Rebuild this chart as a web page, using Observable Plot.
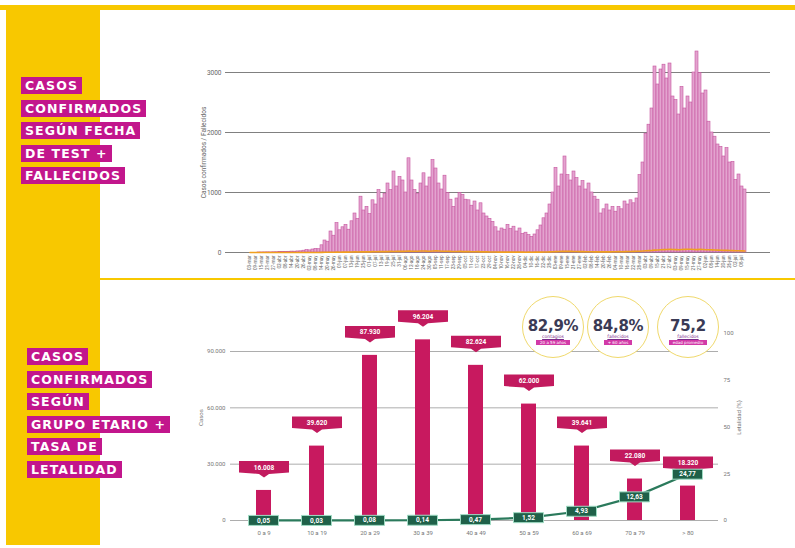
<!DOCTYPE html>
<html><head><meta charset="utf-8">
<script src="https://cdn.jsdelivr.net/npm/d3@7"></script>
<script src="https://cdn.jsdelivr.net/npm/@observablehq/plot@0.6"></script>
<style>
body{margin:0;background:#fff;font-family:"DejaVu Sans",sans-serif}
#wrap{position:relative;width:795px;height:548px;overflow:hidden;background:#fff}
.abs{position:absolute}
.lbl{background:#c2168c;color:#fff;font-weight:bold;font-size:12.5px;letter-spacing:1.1px;line-height:17px;height:17px;padding:0 4px;margin-bottom:5.5px;width:max-content}
.circ{position:absolute;width:60px;height:60px;border:1.8px solid #f0d96c;border-radius:50%;background:#fff;text-align:center;line-height:5px}
.big{font-family:"DejaVu Sans",sans-serif;font-weight:bold;font-size:15px;color:#3a3a55;margin-top:21px;line-height:16px;letter-spacing:-0.3px}
.sub{font-size:4.5px;color:#7a2a8a;line-height:6px;text-decoration:underline}
.minirow{line-height:5px;height:5px}
.mini{display:inline-block;background:#d23aa8;color:#fff;font-size:4px;line-height:5px;padding:0 4px;vertical-align:top}
</style></head>
<body><div id="wrap">
<div class="abs" style="left:0;top:5px;width:795px;height:5px;background:#f8c800"></div>
<div class="abs" style="left:6px;top:5px;width:94px;height:540px;background:#f8c800"></div>
<div class="abs" style="left:100px;top:278px;width:695px;height:2px;background:#f8c800"></div>
<div class="abs" style="left:21px;top:77px">
  <div class="lbl">CASOS</div><div class="lbl">CONFIRMADOS</div><div class="lbl">SEGÚN FECHA</div><div class="lbl">DE TEST +</div><div class="lbl">FALLECIDOS</div>
</div>
<div class="abs" style="left:27px;top:348px">
  <div class="lbl">CASOS</div><div class="lbl">CONFIRMADOS</div><div class="lbl">SEGÚN</div><div class="lbl">GRUPO ETARIO +</div><div class="lbl">TASA DE</div><div class="lbl">LETALIDAD</div>
</div>
<div id="chartTop" class="abs" style="left:180px;top:40px"></div>
<div id="bot1" class="abs" style="left:180px;top:285px"></div>
<div id="bot2" class="abs" style="left:180px;top:285px"></div>
<div class="circ" style="left:522px;top:296px"><div class="big">82,9%</div><div class="sub">contagios</div><div class="minirow"><span class="mini">20 a 59 años</span></div></div>
<div class="circ" style="left:587px;top:296px"><div class="big">84,8%</div><div class="sub">fallecidos</div><div class="minirow"><span class="mini">+ 60 años</span></div></div>
<div class="circ" style="left:657px;top:296px"><div class="big">75,2</div><div class="sub">fallecidos</div><div class="minirow"><span class="mini">edad promedio</span></div></div>
</div>
<script>
// ---- top chart data ----
const casosDiarios = [
 0,0,0,1,1,2,3,2,4,5,
 6,8,10,12,15,14,18,20,30,40,
 35,50,60,55,120,200,180,350,280,490,
 370,420,460,380,520,650,560,930,700,760,
 640,870,800,1040,900,980,1150,1040,1350,1100,
 1260,1200,1000,1570,1200,1040,980,1150,1320,1100,
 1250,1540,1400,1150,1050,1280,990,880,760,900,
 990,960,880,870,780,850,700,820,650,600,
 560,510,420,350,400,380,460,390,430,350,
 400,310,330,290,260,300,370,450,570,650,
 800,1000,1410,1100,1300,1600,1290,1200,1350,1240,
 1100,1190,1050,1150,1000,930,880,650,720,800,
 700,760,680,760,720,850,800,870,820,900,
 1290,1500,1980,2130,2400,3100,2800,3050,3130,2900,
 3150,2600,2540,2300,2760,2400,2600,2500,3000,3350,
 2990,2650,2700,2180,2000,1930,1800,1760,1600,1740,
 1500,1510,1210,1300,1100,1050];
const fallecidosDiarios = [
 0,0,0,0,0,0,0,0,0,0,0,0,0,0,0,0,0,0,0,0,0,0,0,0,
 2,3,3,5,4,6,5,7,8,6,9,10,9,12,11,12,10,14,13,15,14,16,15,18,17,20,18,19,22,
 25,22,20,21,24,26,23,22,25,27,24,22,20,21,18,17,16,18,15,14,15,13,12,14,11,10,12,9,
 8,9,7,8,7,6,7,8,6,7,6,5,6,5,6,7,6,8,9,10,
 12,14,16,18,20,19,18,17,16,15,14,13,12,13,11,10,11,12,10,11,12,13,14,13,15,16,17,18,20,
 22,25,28,32,35,40,42,45,48,50,52,50,48,47,50,52,55,53,50,48,52,50,47,45,43,42,40,38,36,35,33,32,30,28,27,25];
const fechas = [
 "03-mar","09-mar","15-mar","21-mar","27-mar","02-abr","08-abr","14-abr","20-abr","26-abr",
 "02-may","08-may","14-may","20-may","26-may","01-jun","07-jun","13-jun","19-jun","25-jun",
 "01-jul","07-jul","13-jul","19-jul","25-jul","31-jul","06-ago","12-ago","18-ago","24-ago",
 "30-ago","05-sep","11-sep","17-sep","23-sep","29-sep","05-oct","11-oct","17-oct","23-oct",
 "29-oct","04-nov","10-nov","16-nov","22-nov","28-nov","04-dic","10-dic","16-dic","22-dic",
 "28-dic","03-ene","09-ene","15-ene","21-ene","27-ene","02-feb","08-feb","14-feb","20-feb",
 "26-feb","04-mar","10-mar","16-mar","22-mar","28-mar","03-abr","09-abr","15-abr","21-abr",
 "27-abr","03-may","09-may","15-may","21-may","27-may","02-jun","08-jun","14-jun","20-jun",
 "26-jun","02-jul","08-jul"];
const yTicksTop = [0,1000,2000,3000];

// ---- bottom chart data ----
const grupos = ["0 a 9","10 a 19","20 a 29","30 a 39","40 a 49","50 a 59","60 a 69","70 a 79","> 80"];
const casosGrupo = [16008,39620,87930,96204,82624,62000,39641,22080,18320];
const letalidad = [0.05,0.03,0.08,0.14,0.47,1.52,4.93,12.63,24.77];
const yTicksCasos = [0,30000,60000,90000];
const yTicksLet = [0,25,50,75,100];

const loc = d3.formatLocale({decimal:",",thousands:".",grouping:[3],currency:["$",""]});
const fmtN = loc.format(",d");
const fmtL = loc.format(",.2f");

const font = "Roboto, 'DejaVu Sans', sans-serif";

// top chart
const daily = casosDiarios.map((c,i)=>({i, c, f: fallecidosDiarios[i]}));
const tickIdx = fechas.map((_,k)=>k*2);
const chartTop = Plot.plot({
  width:600, height:240, marginLeft:45, marginRight:10, marginTop:12, marginBottom:28,
  style:{background:"transparent", fontFamily:font, fontSize:"5.5px", color:"#666", overflow:"visible"},
  x:{type:"band", domain:daily.map(d=>d.i), range:[68,566], padding:0},
  y:{domain:[0,3500], range:[212,2]},
  marks:[
    Plot.gridY(yTicksTop,{stroke:"#555", strokeOpacity:0.75}),
    Plot.axisY(yTicksTop,{tickSize:0, tickPadding:4, tickFormat:d3.format("d"), label:"Casos confirmados / Fallecidos", labelAnchor:"center", labelArrow:"none", labelOffset:24, fontSize:6.5}),
    Plot.barY(daily,{x:"i", y:"c", fill:"#e3a3cf", stroke:"#c7559e", strokeWidth:0.6}),
    Plot.line(daily,{x:"i", y:"f", stroke:"#f0a020", strokeWidth:1.6}),
    Plot.axisX(tickIdx,{tickSize:0, tickPadding:3, tickRotate:-90, tickFormat:i=>fechas[i/2], fontSize:4.6, label:null})
  ]
});
document.getElementById("chartTop").append(chartTop);

// bottom chart: cases
const datosG = grupos.map((g,i)=>({g, c:casosGrupo[i], l:letalidad[i]}));
const xb = {domain:grupos, range:[56.5,533.5], paddingInner:0.72, paddingOuter:0.36};
const tagSymbol = {draw(ctx){ctx.moveTo(-25,-6.5);ctx.lineTo(25,-6.5);ctx.lineTo(25,5);ctx.lineTo(5,6.5);ctx.lineTo(0,10);ctx.lineTo(-5,6.5);ctx.lineTo(-25,5);ctx.closePath();}};
const boxSymbol = {draw(ctx){ctx.rect(-15,-5,30,10);}};
const b1 = Plot.plot({
  width:600, height:260, marginLeft:50, marginRight:62, marginTop:29, marginBottom:25,
  style:{background:"transparent", fontFamily:font, fontSize:"6px", color:"#777", overflow:"visible"},
  x:xb,
  y:{domain:[0,90000], range:[235,66]},
  marks:[
    Plot.gridY(yTicksCasos,{stroke:"#777", strokeOpacity:0.6}),
    Plot.axisY(yTicksCasos,{tickSize:0, tickPadding:5, tickFormat:fmtN, label:"Casos", labelAnchor:"center", labelArrow:"none", labelOffset:32, fontSize:6}),
    Plot.axisX({tickSize:0, tickPadding:10, fontSize:6, label:null}),
    Plot.barY(datosG,{x:"g", y:"c", fill:"#c8195f"}),
    Plot.dot(datosG,{x:"g", y:"c", symbol:tagSymbol, fill:"#c21a5e", stroke:"none", dy:-23}),
    Plot.text(datosG,{x:"g", y:"c", text:d=>fmtN(d.c), fill:"#fff", fontSize:6.5, fontWeight:"bold", dy:-23})
  ]
});
document.getElementById("bot1").append(b1);

// bottom chart: lethality
const b2 = Plot.plot({
  width:600, height:260, marginLeft:50, marginRight:62, marginTop:29, marginBottom:25,
  style:{background:"transparent", fontFamily:font, fontSize:"6px", color:"#777", overflow:"visible"},
  x:{...xb, axis:null},
  y:{domain:[0,100], range:[235,48]},
  marks:[
    Plot.axisY(yTicksLet,{anchor:"right", tickSize:0, tickPadding:5, label:"Letalidad (%)", labelAnchor:"center", labelArrow:"none", labelOffset:22, fontSize:6}),
    Plot.line(datosG,{x:"g", y:"l", stroke:"#2b7a5c", strokeWidth:2.2}),
    Plot.dot(datosG,{x:"g", y:"l", symbol:boxSymbol, fill:"#1f6149", stroke:"#9fdcc4", strokeWidth:1}),
    Plot.text(datosG,{x:"g", y:"l", text:d=>fmtL(d.l), fill:"#fff", fontSize:6.5, fontWeight:"bold"})
  ]
});
document.getElementById("bot2").append(b2);
</script>
</body></html>
